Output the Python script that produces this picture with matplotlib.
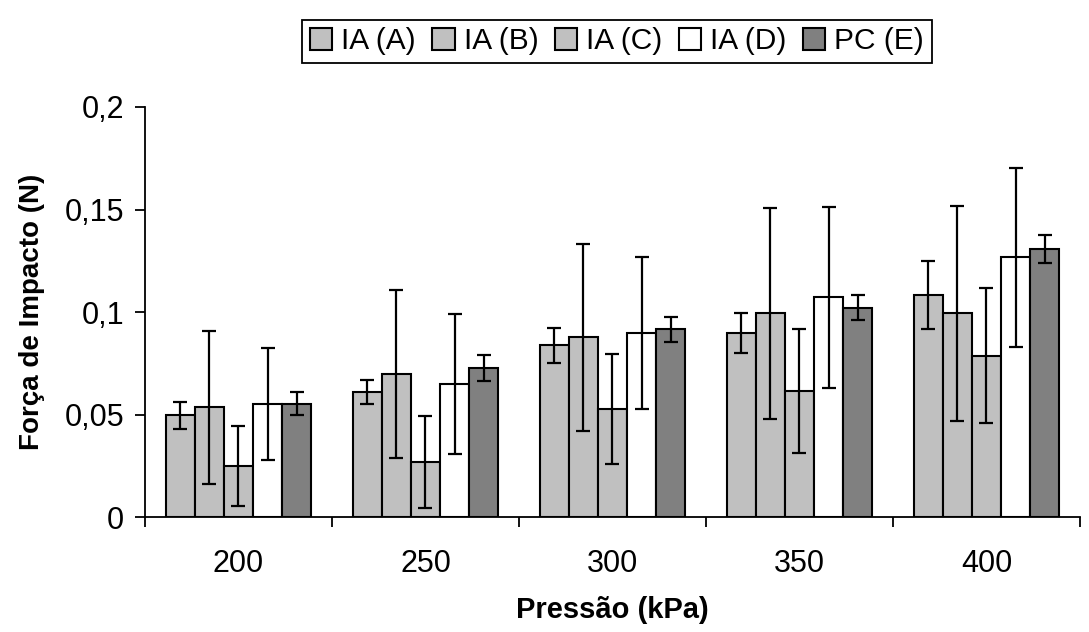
import numpy as np
import matplotlib
matplotlib.use("Agg")
import matplotlib.pyplot as plt

plt.rcParams['font.family'] = ['Liberation Sans', 'DejaVu Sans']

# dados
pressao = ['200', '250', '300', '350', '400']
series = ['IA (A)', 'IA (B)', 'IA (C)', 'IA (D)', 'PC (E)']
ia_a = [0.0497, 0.0611, 0.0838, 0.0899, 0.1082]
ia_b = [0.0536, 0.0699, 0.0877, 0.0994, 0.0994]
ia_c = [0.0253, 0.0272, 0.0528, 0.0614, 0.0789]
ia_d = [0.0555, 0.0650, 0.0897, 0.1072, 0.1267]
pc_e = [0.0555, 0.0728, 0.0916, 0.1023, 0.1306]
err_a = [0.0065, 0.0059, 0.0083, 0.0098, 0.0166]
err_b = [0.0375, 0.0410, 0.0454, 0.0512, 0.0523]
err_c = [0.0195, 0.0224, 0.0268, 0.0302, 0.0329]
err_d = [0.0273, 0.0342, 0.0370, 0.0439, 0.0435]
err_e = [0.0055, 0.0064, 0.0059, 0.0063, 0.0068]
cores = ['#c0c0c0', '#c0c0c0', '#c0c0c0', '#ffffff', '#808080']
yticks = [0, 0.05, 0.1, 0.15, 0.2]
ylabels = ['0', '0,05', '0,1', '0,15', '0,2']

valores = [ia_a, ia_b, ia_c, ia_d, pc_e]
erros = [err_a, err_b, err_c, err_d, err_e]

fig = plt.figure(figsize=(10.89, 6.32), dpi=100)
ax = fig.add_axes([0.1331, 0.1812, 0.8586, 0.6495])

x = np.arange(len(pressao))
w = 0.156
for k in range(5):
    pos = x + (k - 2) * w
    ax.bar(pos, valores[k], w, color=cores[k], edgecolor='black', linewidth=1.5,
           label=series[k], zorder=2)
    ax.errorbar(pos, valores[k], yerr=erros[k], fmt='none', ecolor='black',
                elinewidth=1.6, capsize=4.8, capthick=1.6, zorder=3)

ax.set_xlim(-0.5, 4.5)
ax.set_ylim(0, 0.2)
ax.set_yticks(yticks)
ax.set_yticklabels(ylabels, fontsize=22)
ax.set_xticks(np.arange(-0.5, 5, 1))
ax.set_xticklabels([])
ax.set_xticks(x, minor=True)
ax.set_xticklabels(pressao, minor=True, fontsize=22)
ax.tick_params(axis='x', which='minor', length=0, pad=23)
ax.tick_params(axis='x', which='major', length=7, width=1.3, direction='out')
ax.tick_params(axis='y', length=7, width=1.3, direction='out', pad=8)
for s in ['top', 'right']:
    ax.spines[s].set_visible(False)
for s in ['left', 'bottom']:
    ax.spines[s].set_linewidth(1.3)

ax.set_xlabel('Pressão (kPa)', fontsize=21, fontweight='bold', labelpad=12)
ax.set_ylabel('Força de Impacto (N)', fontsize=20, fontweight='bold', labelpad=14)

leg = fig.legend(loc='center', bbox_to_anchor=(0.5666, 0.935), ncol=5, fontsize=21.5,
                 frameon=True, fancybox=False, edgecolor='black', framealpha=1,
                 handlelength=0.75, handleheight=0.75, handletextpad=0.3,
                 columnspacing=0.55, borderpad=0.25, borderaxespad=0)
leg.get_frame().set_linewidth(1.3)

fig.savefig('out.png', dpi=100)
